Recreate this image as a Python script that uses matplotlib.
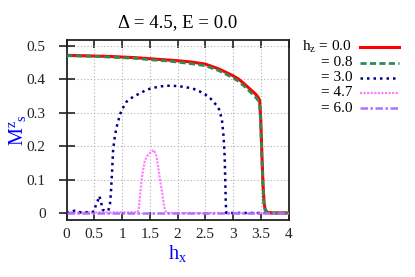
import matplotlib
matplotlib.use("Agg")
import matplotlib.pyplot as plt
from matplotlib.lines import Line2D

plt.rcParams['font.family'] = ['Liberation Serif', 'DejaVu Serif']
plt.rcParams['mathtext.fontset'] = 'custom'
plt.rcParams['mathtext.rm'] = 'Liberation Serif'
plt.rcParams['mathtext.it'] = 'Liberation Serif:italic'

# ---- data ----
hx_00 = [0.0, 0.25, 0.5, 0.75, 1.0, 1.25, 1.5, 1.75, 2.0, 2.25, 2.5, 2.75, 3.0, 3.1, 3.2,
         3.3, 3.4, 3.45, 3.48, 3.5, 3.52, 3.54, 3.56, 3.58, 3.62, 3.7, 3.8, 3.9, 4.0]
m_00 = [0.472, 0.471, 0.470, 0.469, 0.467, 0.465, 0.462, 0.459, 0.456, 0.452, 0.446, 0.431,
        0.411, 0.401, 0.387, 0.372, 0.357, 0.347, 0.338, 0.28, 0.18, 0.09, 0.03, 0.01,
        0.002, 0.0, 0.0, 0.0, 0.0]

hx_08 = hx_00
m_08 = [0.471, 0.470, 0.469, 0.467, 0.465, 0.463, 0.459, 0.456, 0.452, 0.447, 0.441, 0.426,
        0.405, 0.394, 0.380, 0.364, 0.348, 0.338, 0.330, 0.26, 0.16, 0.08, 0.025, 0.008,
        0.002, 0.0, 0.0, 0.0, 0.0]

hx_30 = [0.0, 0.05, 0.1, 0.15, 0.2, 0.25, 0.3, 0.35, 0.4, 0.45, 0.5, 0.53, 0.56, 0.59, 0.62,
         0.65, 0.7, 0.75, 0.78, 0.8, 0.82, 0.84, 0.87, 0.9, 0.96, 1.0, 1.08, 1.2, 1.32, 1.4,
         1.5, 1.6, 1.7, 1.8, 1.9, 2.0, 2.1, 2.2, 2.3, 2.4, 2.5, 2.6, 2.7, 2.75, 2.8, 2.83,
         2.85, 2.86, 2.87, 2.88, 3.0, 3.5, 4.0]
m_30 = [0.0, 0.003, 0.005, 0.007, 0.004, 0.002, 0.003, 0.002, 0.003, 0.002, 0.005, 0.025,
        0.035, 0.051, 0.035, 0.010, 0.006, 0.007, 0.02, 0.06, 0.12, 0.19, 0.228, 0.255,
        0.293, 0.31, 0.333, 0.348, 0.358, 0.365, 0.372, 0.376, 0.379, 0.381, 0.381, 0.380,
        0.378, 0.375, 0.371, 0.364, 0.355, 0.342, 0.323, 0.31, 0.28, 0.23, 0.17, 0.10,
        0.03, 0.0, 0.0, 0.0, 0.0]

hx_47 = [0.0, 0.5, 1.0, 1.28, 1.3, 1.33, 1.36, 1.41, 1.45, 1.5, 1.55, 1.58, 1.62, 1.65,
         1.68, 1.72, 1.75, 1.77, 1.8, 2.5, 3.0, 3.5, 4.0]
m_47 = [0.002, 0.002, 0.002, 0.002, 0.01, 0.06, 0.11, 0.155, 0.17, 0.179, 0.186, 0.188,
        0.17, 0.14, 0.105, 0.065, 0.03, 0.01, 0.0, 0.0, 0.0, 0.0, 0.0]

hx_60 = [0.0, 1.0, 2.0, 3.0, 4.0]
m_60 = [0.0, 0.0, 0.0, 0.0, 0.0]

legend_labels = ['h$_{\\mathrm{z}}$ = 0.0', '= 0.8', '= 3.0', '= 4.7', '= 6.0']
xticks = [0, 0.5, 1, 1.5, 2, 2.5, 3, 3.5, 4]
xtick_labels = ['0', '0.5', '1', '1.5', '2', '2.5', '3', '3.5', '4']
yticks = [0, 0.1, 0.2, 0.3, 0.4, 0.5]
ytick_labels = ['0', '0.1', '0.2', '0.3', '0.4', '0.5']

W, H = 415, 277
fig = plt.figure(figsize=(W / 100, H / 100), dpi=100)
ax = fig.add_axes([66.5 / W, 1 - 220 / H, (288.5 - 66.5) / W, 180 / H])

styles = [
    dict(color='#ff0000', lw=2.2, linestyle='-'),
    dict(color='#2e8b57', lw=2.0, linestyle=(0, (2.2, 1.2))),
    dict(color='#00008b', lw=1.8, linestyle=(0, (1, 1.6))),
    dict(color='#ff80ff', lw=1.6, linestyle=(0, (1, 0.6))),
    dict(color='#b070ff', lw=1.8, linestyle=(0, (3, 1, 1, 1))),
]
series = [(hx_00, m_00), (hx_08, m_08), (hx_30, m_30), (hx_47, m_47), (hx_60, m_60)]
zorders = [3.4, 3.5, 3.3, 3.2, 3.6]
for i in range(5):
    x, y = series[i]
    ax.plot(x, y, dash_capstyle='butt', zorder=zorders[i], **styles[i])

ax.set_xlim(0, 4)
ax.set_ylim(-0.021, 0.518)
ax.set_xticks(xticks)
ax.set_xticklabels(xtick_labels)
ax.set_yticks(yticks)
ax.set_yticklabels(ytick_labels)
ax.grid(True, color='#b0b0b0', linestyle=(0, (1, 2)), linewidth=0.8)
ax.tick_params(axis='y', direction='inout', length=12, width=1.2, labelsize=11, pad=9, colors='#222222')
ax.tick_params(axis='x', direction='in', length=6, width=1.2, labelsize=11, pad=6, top=True, colors='#222222')
for s in ax.spines.values():
    s.set_linewidth(1.3)
    s.set_color('#222222')

fig.text(177.5 / W, 1 - 27 / H, '\u0394 = 4.5, E = 0.0', ha='center', va='baseline', fontsize=13.5)
fig.text(177.5 / W, 1 - 253 / H, 'h$_{\\mathrm{x}}$', ha='center', va='center', fontsize=14.5, color='#0000ff')
fig.text(17 / W, 1 - 130 / H, 'M$^{\\mathrm{z}}$$_{\\mathrm{s}}$', ha='center', va='center', fontsize=14.5,
         color='#0000ff', rotation=90)

# legend (gnuplot style: right-aligned text, sample at right)
rows = [47, 62.5, 77.5, 92.5, 108]
for i in range(5):
    yy = 1 - rows[i] / H
    fig.text(352 / W, yy, legend_labels[i], ha='right', va='center', fontsize=11)
    fig.add_artist(Line2D([360 / W, 399 / W], [yy, yy], transform=fig.transFigure,
                          dash_capstyle='butt', **styles[i]))

fig.savefig('out.png', dpi=100)
